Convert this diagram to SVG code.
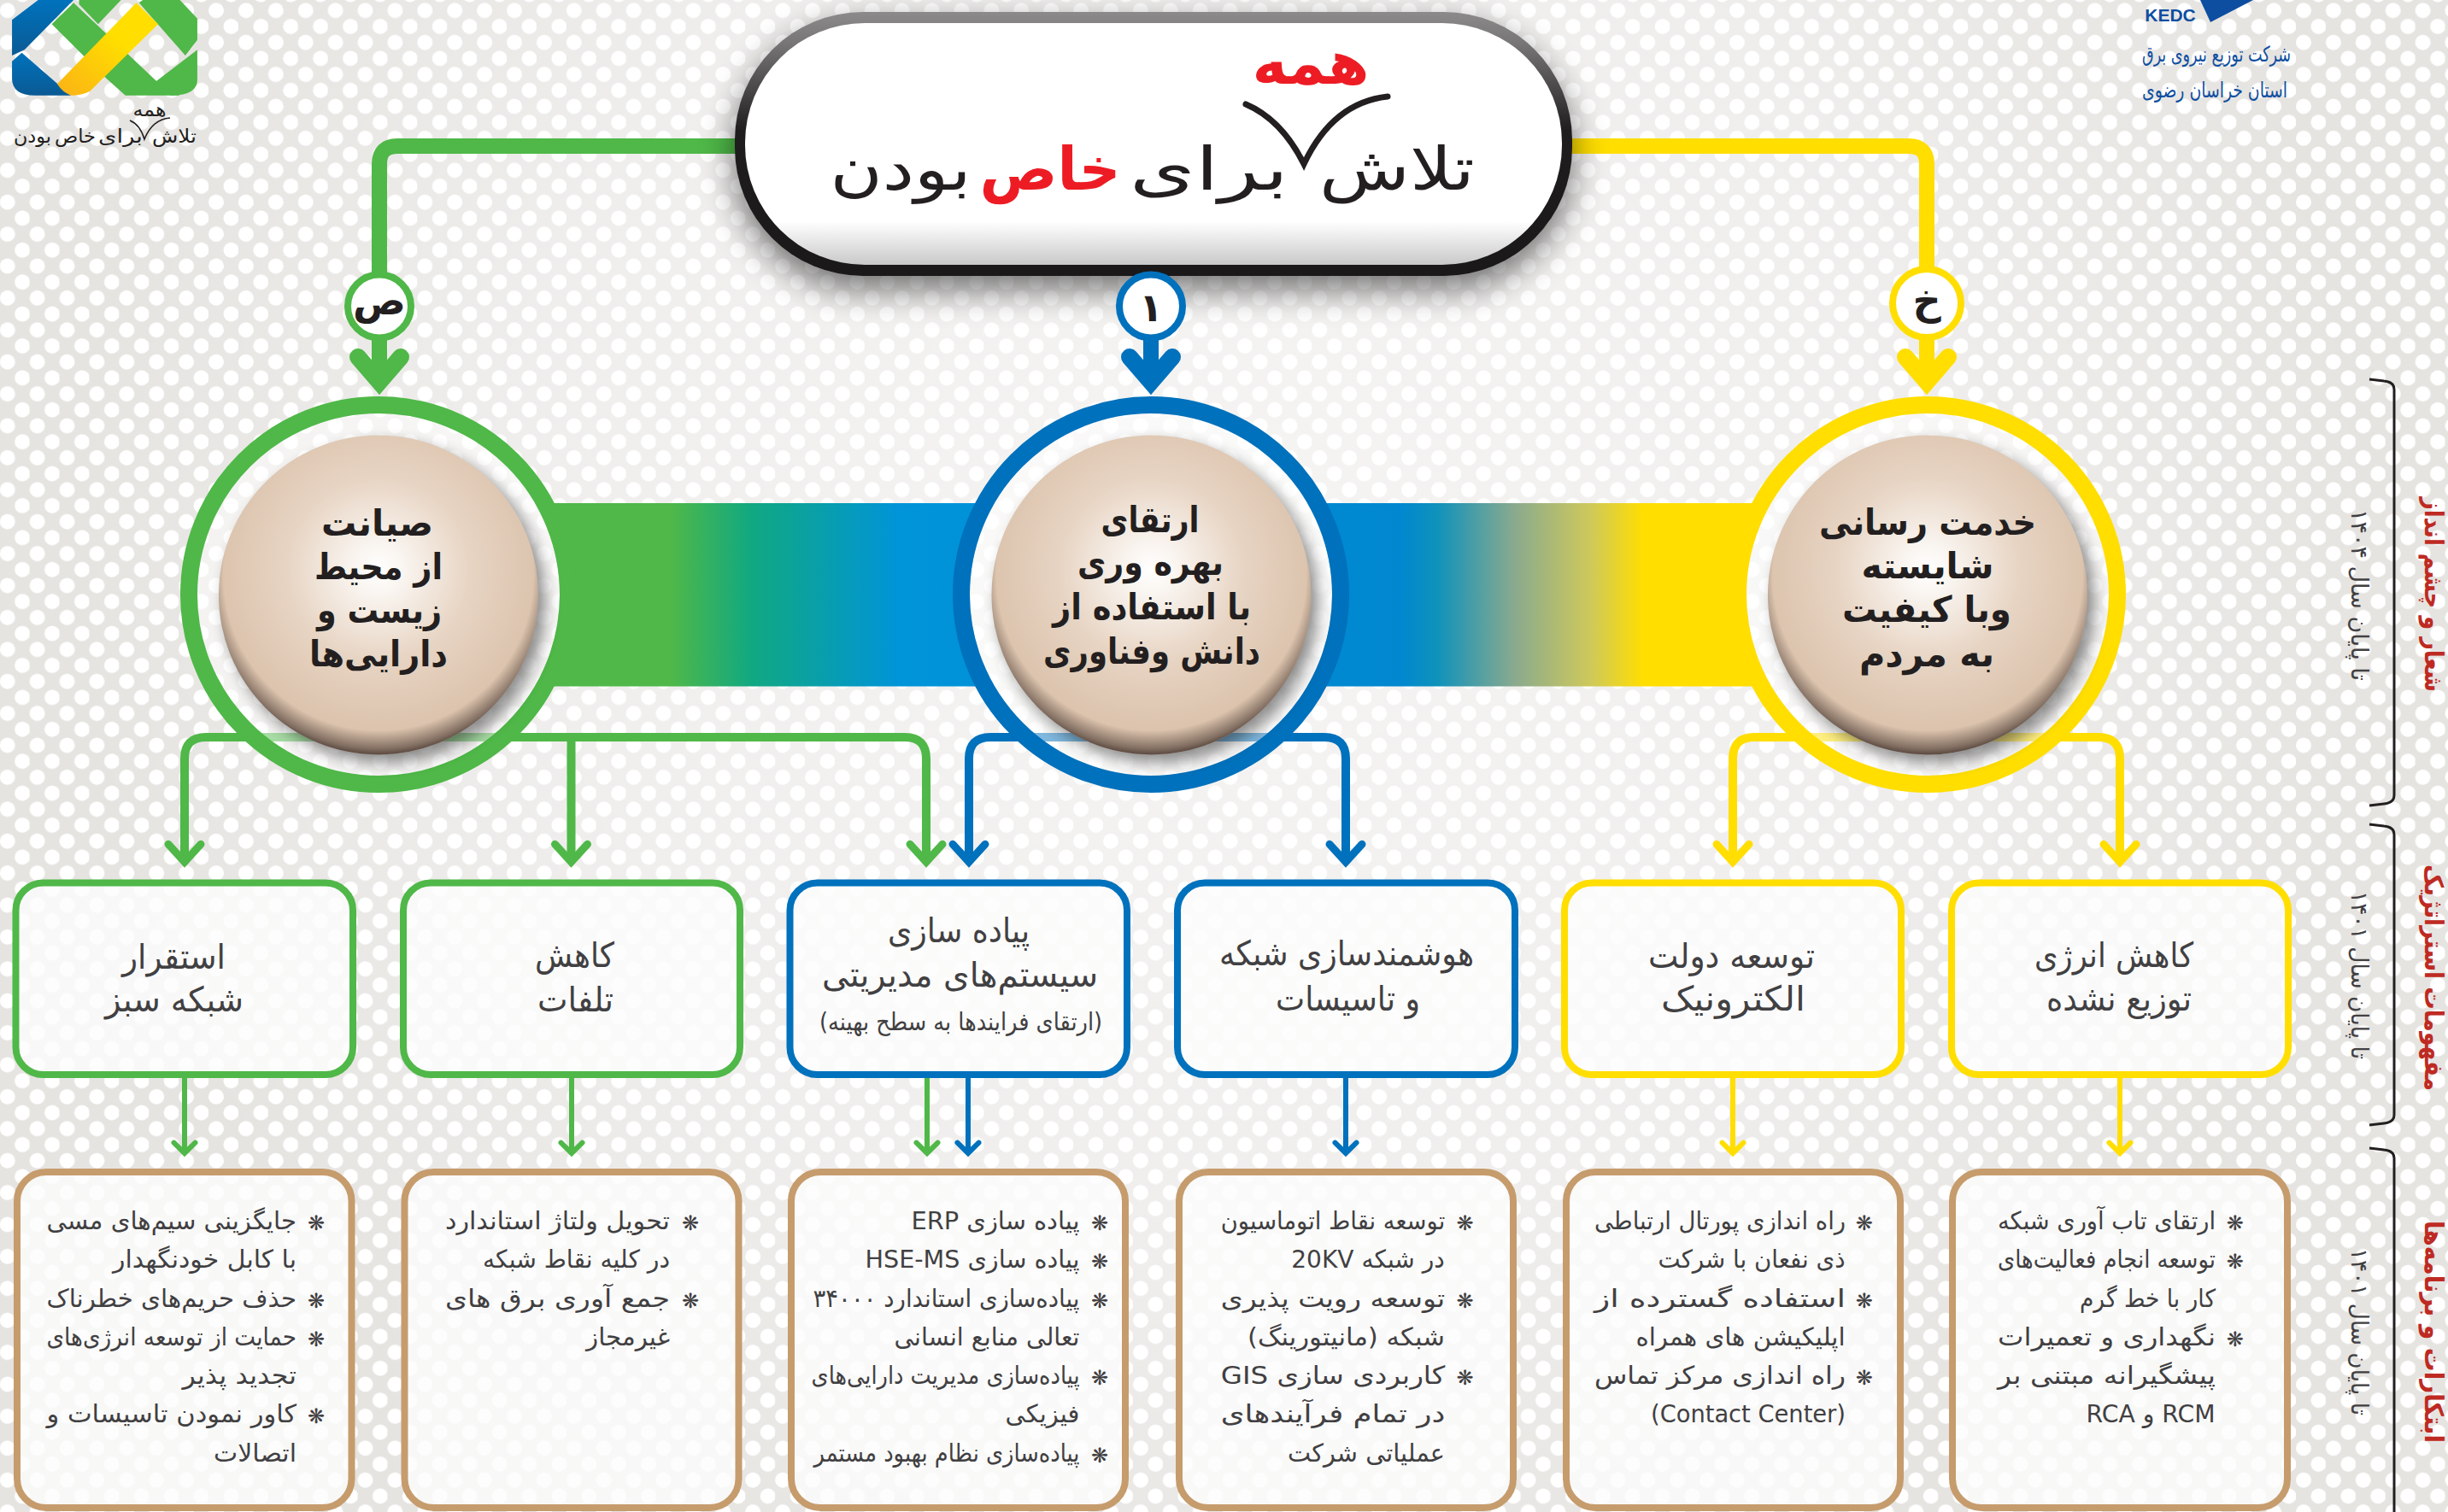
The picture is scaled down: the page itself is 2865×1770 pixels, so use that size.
<svg xmlns="http://www.w3.org/2000/svg" width="2865" height="1770" viewBox="0 0 2865 1770">
<style>
text{font-family:"DejaVu Sans",sans-serif}
.ar{direction:rtl;text-anchor:middle}
.ttl{font-size:70px;fill:#231f20}
.red{fill:#ed1c24}
.smt{font-size:22px;fill:#231f20}
.disc{font-size:42px;font-weight:700;fill:#231f20}
.head{font-size:40px;fill:#414042}
.body{font-size:29px;fill:#414042}
.bul{font-size:24px;fill:#414042;text-anchor:middle}
.yr{font-size:27px;fill:#414042}
.sec{font-size:30px;font-weight:700;fill:#be2a22}
.kb{font-size:25px;fill:#0d4ea1}
.br{fill:none;stroke:#231f20;stroke-width:3}
.box{stroke-width:8;fill:#fdfdfd;fill-opacity:.82}
.res{stroke:#c69c6d;stroke-width:8;fill:#fdfdfd;fill-opacity:.8}
.ring{stroke-width:20;fill:#fff;fill-opacity:.5}
.bdg{stroke-width:8;fill:#fff}
.sg{stroke:#4fb848}.sb{stroke:#0071bc}.sy{stroke:#ffde00}
.cn{fill:none}
.w18{stroke-width:18}.w10{stroke-width:10}.w6{stroke-width:6}
.hb{font-size:46px;font-weight:700;fill:#231f20;text-anchor:middle}
</style>
<defs>
<pattern id="dots" patternUnits="userSpaceOnUse" x="-0.3" y="2.8" width="34.9" height="37.4">
<circle cx="9" cy="9.5" r="9" fill="#fff"/><circle cx="26.45" cy="28.2" r="9" fill="#fff"/>
</pattern>
<radialGradient id="haze" gradientUnits="userSpaceOnUse" cx="1430" cy="640" r="1500">
<stop offset="0" stop-color="#fff" stop-opacity=".62"/><stop offset=".55" stop-color="#fff" stop-opacity=".38"/><stop offset=".9" stop-color="#fff" stop-opacity="0"/>
</radialGradient>
<linearGradient id="band" gradientUnits="userSpaceOnUse" x1="626" y1="0" x2="2072" y2="0">
<stop offset=".11" stop-color="#4fb848"/><stop offset=".176" stop-color="#10a882"/><stop offset=".295" stop-color="#0094d9"/><stop offset=".70" stop-color="#0087d0"/><stop offset=".73" stop-color="#0f92bb"/><stop offset=".793" stop-color="#8aaa8e"/><stop offset=".855" stop-color="#cfc95a"/><stop offset=".897" stop-color="#ffde00"/>
</linearGradient>
<radialGradient id="discG" cx=".5" cy=".42" r=".6">
<stop offset="0" stop-color="#fff"/><stop offset=".14" stop-color="#f9f4ef"/><stop offset=".48" stop-color="#e7d4c3"/><stop offset=".82" stop-color="#dcc4ae"/><stop offset="1" stop-color="#d8bfa8"/>
</radialGradient>
<radialGradient id="discR" cx=".5" cy=".44" r=".57">
<stop offset=".85" stop-color="#3c2d28" stop-opacity="0"/><stop offset=".95" stop-color="#3c2d28" stop-opacity=".55"/><stop offset="1" stop-color="#3c2d28" stop-opacity=".95"/>
</radialGradient>
<linearGradient id="pe" x1="0" y1="0" x2="0" y2="1">
<stop offset="0" stop-color="#8c8a8a"/><stop offset=".12" stop-color="#777575"/><stop offset=".45" stop-color="#1f1d1d"/><stop offset="1" stop-color="#1a1818"/>
</linearGradient>
<linearGradient id="pf" x1="0" y1="0" x2="0" y2="1">
<stop offset="0" stop-color="#fff"/><stop offset=".82" stop-color="#fff"/><stop offset="1" stop-color="#c9c9c9"/>
</linearGradient>
<linearGradient id="lgB" x1="0" y1="0" x2="0" y2="1"><stop offset="0" stop-color="#0072bc"/><stop offset="1" stop-color="#0a5a94"/></linearGradient>
<linearGradient id="lgY" x1="1" y1="0" x2="0" y2="1"><stop offset=".4" stop-color="#ffde00"/><stop offset="1" stop-color="#fbb116"/></linearGradient>
<filter id="b20" x="-20%" y="-40%" width="140%" height="200%"><feGaussianBlur stdDeviation="20"/></filter>
<filter id="b9" x="-20%" y="-20%" width="140%" height="140%"><feGaussianBlur stdDeviation="9"/></filter>
<marker id="Hg" markerUnits="userSpaceOnUse" markerWidth="80" markerHeight="80" viewBox="0 0 80 80" refX="60" refY="40" orient="auto"><path d="M31,15L60,40L31,65" fill="none" stroke="#4fb848" stroke-width="20" stroke-linecap="round"/></marker>
<marker id="Hb" markerUnits="userSpaceOnUse" markerWidth="80" markerHeight="80" viewBox="0 0 80 80" refX="60" refY="40" orient="auto"><path d="M31,15L60,40L31,65" fill="none" stroke="#0071bc" stroke-width="20" stroke-linecap="round"/></marker>
<marker id="Hy" markerUnits="userSpaceOnUse" markerWidth="80" markerHeight="80" viewBox="0 0 80 80" refX="60" refY="40" orient="auto"><path d="M31,15L60,40L31,65" fill="none" stroke="#ffde00" stroke-width="20" stroke-linecap="round"/></marker>
<marker id="Mg" markerUnits="userSpaceOnUse" markerWidth="60" markerHeight="60" viewBox="0 0 60 60" refX="40" refY="30" orient="auto"><path d="M19.2,11L40,30L19.2,49" fill="none" stroke="#4fb848" stroke-width="9" stroke-linecap="round"/></marker>
<marker id="Mb" markerUnits="userSpaceOnUse" markerWidth="60" markerHeight="60" viewBox="0 0 60 60" refX="40" refY="30" orient="auto"><path d="M19.2,11L40,30L19.2,49" fill="none" stroke="#0071bc" stroke-width="9" stroke-linecap="round"/></marker>
<marker id="My" markerUnits="userSpaceOnUse" markerWidth="60" markerHeight="60" viewBox="0 0 60 60" refX="40" refY="30" orient="auto"><path d="M19.2,11L40,30L19.2,49" fill="none" stroke="#ffde00" stroke-width="9" stroke-linecap="round"/></marker>
<marker id="Sg" markerUnits="userSpaceOnUse" markerWidth="40" markerHeight="40" viewBox="0 0 40 40" refX="28" refY="20" orient="auto"><path d="M15.6,7.5L28,20L15.6,32.5" fill="none" stroke="#4fb848" stroke-width="6" stroke-linecap="round"/></marker>
<marker id="Sb" markerUnits="userSpaceOnUse" markerWidth="40" markerHeight="40" viewBox="0 0 40 40" refX="28" refY="20" orient="auto"><path d="M15.6,7.5L28,20L15.6,32.5" fill="none" stroke="#0071bc" stroke-width="6" stroke-linecap="round"/></marker>
<marker id="Sy" markerUnits="userSpaceOnUse" markerWidth="40" markerHeight="40" viewBox="0 0 40 40" refX="28" refY="20" orient="auto"><path d="M15.6,7.5L28,20L15.6,32.5" fill="none" stroke="#ffde00" stroke-width="6" stroke-linecap="round"/></marker>
</defs>

<g id="background">
<rect width="2865" height="1770" fill="#e6e4e1"/>
<rect width="2865" height="1770" fill="url(#dots)"/>
<rect width="2865" height="1770" fill="url(#haze)"/>
</g>

<g id="logo-left">
<g transform="scale(.638 .3333)">
<path d="M70,0L135,0L45,175L22,195L22,70Z" fill="url(#lgB)"/>
<path d="M40,185L130,335L65,335Q22,335 22,275L22,215Z" fill="url(#lgB)"/>
<path d="M135,10L290,290L330,335L230,335L195,275L95,85Z" fill="#4fb848"/>
<path d="M145,15L180,85L222,0L145,0Z" fill="#4fb848"/>
<path d="M255,10L262,0L330,0L362,65L362,140L340,195Z" fill="#4fb848"/>
<path d="M362,175L362,280Q362,335 315,335Q295,330 280,295Z" fill="#4fb848"/>
<path d="M250,10L290,85L165,320Q150,335 130,335Q115,325 105,295Z" fill="url(#lgY)"/>
</g>
<text class="ar smt red" x="175" y="136" font-size="14" textLength="39" lengthAdjust="spacingAndGlyphs">همه</text>
<path d="M152,141Q164,146 169,163Q178,140 199,138" fill="none" stroke="#231f20" stroke-width="1.6"/>
<text class="ar smt" x="204" y="167" textLength="52" lengthAdjust="spacingAndGlyphs">تلاش</text>
<text class="ar smt" x="141" y="167" textLength="52" lengthAdjust="spacingAndGlyphs">برای</text>
<text class="ar smt red" x="88" y="167" textLength="48" lengthAdjust="spacingAndGlyphs">خاص</text>
<text class="ar smt" x="38" y="167" textLength="44" lengthAdjust="spacingAndGlyphs">بودن</text>
</g>

<g id="logo-right">
<path d="M2575,0L2637,0L2587,26Z" fill="#0d4ea1"/>
<text x="2540" y="25" text-anchor="middle" font-size="21" font-weight="700" fill="#0d4ea1" style="font-family:'Liberation Sans',sans-serif">KEDC</text>
<text class="ar kb" x="2594" y="72" textLength="174" lengthAdjust="spacingAndGlyphs">شرکت توزیع نیروی برق</text>
<text class="ar kb" x="2592" y="114" textLength="170" lengthAdjust="spacingAndGlyphs">استان خراسان رضوی</text>
</g>

<g id="connectors">
<path class="cn sg w18" d="M870,171H465Q444,171 444,192V447" marker-end="url(#Hg)"/>
<path class="cn sb w18" d="M1347,320V447" marker-end="url(#Hb)"/>
<path class="cn sy w18" d="M1830,171H2234Q2255,171 2255,192V447" marker-end="url(#Hy)"/>
<path class="cn sg w10" d="M443,863H241Q216,863 216,888V1009" marker-end="url(#Mg)"/>
<path class="cn sg w10" d="M668.5,863V1009" marker-end="url(#Mg)"/>
<path class="cn sg w10" d="M443,863H1059Q1084,863 1084,888V1009" marker-end="url(#Mg)"/>
<path class="cn sb w10" d="M1347,863H1159Q1134,863 1134,888V1009" marker-end="url(#Mb)"/>
<path class="cn sb w10" d="M1347,863H1550Q1575,863 1575,888V1009" marker-end="url(#Mb)"/>
<path class="cn sy w10" d="M2255,863H2053Q2028,863 2028,888V1009" marker-end="url(#My)"/>
<path class="cn sy w10" d="M2255,863H2456Q2481,863 2481,888V1009" marker-end="url(#My)"/>
<path class="cn sg w6" d="M216,1262V1350" marker-end="url(#Sg)"/>
<path class="cn sg w6" d="M669,1262V1350" marker-end="url(#Sg)"/>
<path class="cn sg w6" d="M1085,1262V1350" marker-end="url(#Sg)"/>
<path class="cn sb w6" d="M1133,1262V1350" marker-end="url(#Sb)"/>
<path class="cn sb w6" d="M1575,1262V1350" marker-end="url(#Sb)"/>
<path class="cn sy w6" d="M2028,1262V1350" marker-end="url(#Sy)"/>
<path class="cn sy w6" d="M2481,1262V1350" marker-end="url(#Sy)"/>
</g>

<g id="band">
<path d="M626,589A212,212 0 0 1 626,803.6H1164A212,212 0 0 1 1164,589Z" fill="url(#band)"/>
<path d="M1530,589A212,212 0 0 1 1530,803.6H2072A212,212 0 0 1 2072,589Z" fill="url(#band)"/>
</g>

<g id="title">
<rect x="860" y="30" width="980" height="309" rx="150" fill="#000" opacity=".55" filter="url(#b20)"/>
<rect x="860" y="14" width="980" height="309" rx="150" fill="url(#pe)"/>
<rect x="872" y="27" width="956" height="283" rx="140" fill="url(#pf)"/>
<text class="ar ttl red" x="1534" y="98" font-size="46" font-weight="700" textLength="137" lengthAdjust="spacingAndGlyphs">همه</text>
<path d="M1458,122Q1500,140 1526,192Q1560,120 1624,113" fill="none" stroke="#231f20" stroke-width="7" stroke-linecap="round"/>
<text class="ar ttl" x="1635" y="222" textLength="182" lengthAdjust="spacingAndGlyphs">تلاش</text>
<text class="ar ttl" x="1415" y="222" textLength="186" lengthAdjust="spacingAndGlyphs">برای</text>
<text class="ar ttl red" x="1229" y="222" font-weight="700" textLength="165" lengthAdjust="spacingAndGlyphs">خاص</text>
<text class="ar ttl" x="1054" y="222" textLength="165" lengthAdjust="spacingAndGlyphs">بودن</text>
</g>

<g id="circle-green">
<circle class="ring sg" cx="443" cy="696" r="222"/>
<circle cx="451" cy="706" r="187" fill="#000" opacity=".45" filter="url(#b9)"/>
<circle cx="443" cy="696.4" r="187" fill="url(#discG)"/><circle cx="443" cy="696.4" r="187" fill="url(#discR)"/>
<text class="ar disc" x="441.5" y="627" textLength="131" lengthAdjust="spacingAndGlyphs">صیانت</text>
<text class="ar disc" x="443" y="678" textLength="150" lengthAdjust="spacingAndGlyphs">از محیط</text>
<text class="ar disc" x="444" y="729" textLength="146" lengthAdjust="spacingAndGlyphs">زیست و</text>
<text class="ar disc" x="443" y="780" textLength="162" lengthAdjust="spacingAndGlyphs">دارایی‌ها</text>
</g>
<g id="circle-blue">
<circle class="ring sb" cx="1347" cy="696" r="222"/>
<circle cx="1355" cy="706" r="187" fill="#000" opacity=".45" filter="url(#b9)"/>
<circle cx="1347.5" cy="696.4" r="187" fill="url(#discG)"/><circle cx="1347.5" cy="696.4" r="187" fill="url(#discR)"/>
<text class="ar disc" x="1346" y="623" textLength="115" lengthAdjust="spacingAndGlyphs">ارتقای</text>
<text class="ar disc" x="1346.5" y="673" textLength="171" lengthAdjust="spacingAndGlyphs">بهره وری</text>
<text class="ar disc" x="1348" y="725" textLength="232" lengthAdjust="spacingAndGlyphs">با استفاده از</text>
<text class="ar disc" x="1348" y="777" textLength="254" lengthAdjust="spacingAndGlyphs">دانش وفناوری</text>
</g>
<g id="circle-yellow">
<circle class="ring sy" cx="2256" cy="696" r="222"/>
<circle cx="2264" cy="706" r="187" fill="#000" opacity=".45" filter="url(#b9)"/>
<circle cx="2256" cy="696.4" r="187" fill="url(#discG)"/><circle cx="2256" cy="696.4" r="187" fill="url(#discR)"/>
<text class="ar disc" x="2256" y="626" textLength="254" lengthAdjust="spacingAndGlyphs">خدمت رسانی</text>
<text class="ar disc" x="2256" y="677" textLength="155" lengthAdjust="spacingAndGlyphs">شایسته</text>
<text class="ar disc" x="2255" y="728" textLength="198" lengthAdjust="spacingAndGlyphs">وبا کیفیت</text>
<text class="ar disc" x="2255" y="780" textLength="158" lengthAdjust="spacingAndGlyphs">به مردم</text>
</g>

<g id="badge-s"><circle class="bdg sg" cx="444" cy="358.5" r="37"/><text class="hb" x="444" y="368">ص</text></g>
<g id="badge-a"><circle class="bdg sb" cx="1347" cy="358.5" r="37"/><text class="hb" x="1347" y="376">۱</text></g>
<g id="badge-kh"><circle class="bdg sy" cx="2255" cy="355" r="40"/><text class="hb" x="2255" y="368">خ</text></g>

<g id="goal-1"><rect class="box sg" x="18.5" y="1033.5" width="394.5" height="224.5" rx="32"/>
<text class="ar head" x="203.5" y="1134" textLength="121" lengthAdjust="spacingAndGlyphs">استقرار</text>
<text class="ar head" x="204" y="1184" textLength="162" lengthAdjust="spacingAndGlyphs">شبکه سبز</text></g>
<g id="goal-2"><rect class="box sg" x="472" y="1033.5" width="394" height="224.5" rx="32"/>
<text class="ar head" x="672.5" y="1132" textLength="93" lengthAdjust="spacingAndGlyphs">کاهش</text>
<text class="ar head" x="673.5" y="1184" textLength="89" lengthAdjust="spacingAndGlyphs">تلفات</text></g>
<g id="goal-3"><rect class="box sb" x="924.5" y="1033.5" width="394.5" height="224.5" rx="32"/>
<text class="ar head" x="1122" y="1103" textLength="166" lengthAdjust="spacingAndGlyphs">پیاده سازی</text>
<text class="ar head" x="1123.5" y="1155" textLength="323" lengthAdjust="spacingAndGlyphs">سیستم‌های مدیریتی</text>
<text class="ar body" x="1124.5" y="1206" textLength="331" lengthAdjust="spacingAndGlyphs">(ارتقای فرایندها به سطح بهینه)</text></g>
<g id="goal-4"><rect class="box sb" x="1378" y="1033.5" width="395" height="224.5" rx="32"/>
<text class="ar head" x="1576" y="1130" textLength="298" lengthAdjust="spacingAndGlyphs">هوشمندسازی شبکه</text>
<text class="ar head" x="1577.5" y="1183" textLength="169" lengthAdjust="spacingAndGlyphs">و تاسیسات</text></g>
<g id="goal-5"><rect class="box sy" x="1831" y="1033.5" width="394" height="224.5" rx="32"/>
<text class="ar head" x="2026.5" y="1133" textLength="195" lengthAdjust="spacingAndGlyphs">توسعه دولت</text>
<text class="ar head" x="2028.5" y="1183" textLength="169" lengthAdjust="spacingAndGlyphs">الکترونیک</text></g>
<g id="goal-6"><rect class="box sy" x="2284" y="1033.5" width="394" height="224.5" rx="32"/>
<text class="ar head" x="2474" y="1132" textLength="186" lengthAdjust="spacingAndGlyphs">کاهش انرژی</text>
<text class="ar head" x="2480" y="1183" textLength="170" lengthAdjust="spacingAndGlyphs">توزیع نشده</text></g>

<g id="actions-1"><rect class="res" x="20" y="1372" width="391.5" height="393" rx="34"/>
<text class="bul" x="370" y="1440">❋</text><text class="bul" x="370" y="1531">❋</text><text class="bul" x="370" y="1576">❋</text><text class="bul" x="370" y="1666">❋</text>
<text class="ar body" x="200.75" y="1439" textLength="292.5" lengthAdjust="spacingAndGlyphs">جایگزینی سیم‌های مسی</text>
<text class="ar body" x="239.5" y="1484" textLength="215" lengthAdjust="spacingAndGlyphs">با کابل خودنگهدار</text>
<text class="ar body" x="200.75" y="1530" textLength="292.5" lengthAdjust="spacingAndGlyphs">حذف حریم‌های خطرناک</text>
<text class="ar body" x="200.75" y="1575" textLength="292.5" lengthAdjust="spacingAndGlyphs">حمایت از توسعه انرژی‌های</text>
<text class="ar body" x="280.25" y="1620" textLength="133.5" lengthAdjust="spacingAndGlyphs">تجدید پذیر</text>
<text class="ar body" x="200.75" y="1665" textLength="292.5" lengthAdjust="spacingAndGlyphs">کاور نمودن تاسیسات و</text>
<text class="ar body" x="298.5" y="1711" textLength="97" lengthAdjust="spacingAndGlyphs">اتصالات</text></g>

<g id="actions-2"><rect class="res" x="473.5" y="1372" width="391" height="393" rx="34"/>
<text class="bul" x="808" y="1440">❋</text><text class="bul" x="808" y="1531">❋</text>
<text class="ar body" x="652.5" y="1439" textLength="263" lengthAdjust="spacingAndGlyphs">تحویل ولتاژ استاندارد</text>
<text class="ar body" x="674.5" y="1484" textLength="219" lengthAdjust="spacingAndGlyphs">در کلیه نقاط شبکه</text>
<text class="ar body" x="652.5" y="1530" textLength="263" lengthAdjust="spacingAndGlyphs">جمع آوری برق های</text>
<text class="ar body" x="735" y="1575" textLength="98" lengthAdjust="spacingAndGlyphs">غیرمجاز</text></g>

<g id="actions-3"><rect class="res" x="926" y="1372" width="391" height="393" rx="34"/>
<text class="bul" x="1287" y="1440">❋</text><text class="bul" x="1287" y="1485">❋</text><text class="bul" x="1287" y="1531">❋</text><text class="bul" x="1287" y="1621">❋</text><text class="bul" x="1287" y="1712">❋</text>
<text class="ar body" x="1165" y="1439" textLength="197" lengthAdjust="spacingAndGlyphs">پیاده سازی ERP</text>
<text class="ar body" x="1138" y="1484" textLength="251" lengthAdjust="spacingAndGlyphs">پیاده سازی HSE-MS</text>
<text class="ar body" x="1107.5" y="1530" textLength="312" lengthAdjust="spacingAndGlyphs">پیاده‌سازی استاندارد ۳۴۰۰۰</text>
<text class="ar body" x="1155" y="1575" textLength="217" lengthAdjust="spacingAndGlyphs">تعالی منابع انسانی</text>
<text class="ar body" x="1106.6" y="1620" textLength="314" lengthAdjust="spacingAndGlyphs">پیاده‌سازی مدیریت دارایی‌های</text>
<text class="ar body" x="1220" y="1665" textLength="87" lengthAdjust="spacingAndGlyphs">فیزیکی</text>
<text class="ar body" x="1108" y="1711" textLength="311" lengthAdjust="spacingAndGlyphs">پیاده‌سازی نظام بهبود مستمر</text></g>

<g id="actions-4"><rect class="res" x="1380" y="1372" width="391" height="393" rx="34"/>
<text class="bul" x="1714.5" y="1440">❋</text><text class="bul" x="1714.5" y="1531">❋</text><text class="bul" x="1714.5" y="1621">❋</text>
<text class="ar body" x="1560" y="1439" textLength="262.5" lengthAdjust="spacingAndGlyphs">توسعه نقاط اتوماسیون</text>
<text class="ar body" x="1601" y="1484" textLength="179.5" lengthAdjust="spacingAndGlyphs">در شبکه 20KV</text>
<text class="ar body" x="1560" y="1530" textLength="262.5" lengthAdjust="spacingAndGlyphs">توسعه رویت پذیری</text>
<text class="ar body" x="1575.5" y="1575" textLength="231" lengthAdjust="spacingAndGlyphs">شبکه (مانیتورینگ)</text>
<text class="ar body" x="1560" y="1620" textLength="262.5" lengthAdjust="spacingAndGlyphs">کاربردی سازی GIS</text>
<text class="ar body" x="1560" y="1665" textLength="262.5" lengthAdjust="spacingAndGlyphs">در تمام فرآیندهای</text>
<text class="ar body" x="1599" y="1711" textLength="184" lengthAdjust="spacingAndGlyphs">عملیاتی شرکت</text></g>

<g id="actions-5"><rect class="res" x="1833" y="1372" width="391" height="393" rx="34"/>
<text class="bul" x="2181.7" y="1440">❋</text><text class="bul" x="2181.7" y="1531">❋</text><text class="bul" x="2181.7" y="1621">❋</text>
<text class="ar body" x="2013" y="1439" textLength="294" lengthAdjust="spacingAndGlyphs">راه اندازی پورتال ارتباطی</text>
<text class="ar body" x="2050" y="1484" textLength="219" lengthAdjust="spacingAndGlyphs">ذی نفعان با شرکت</text>
<text class="ar body" x="2013" y="1530" textLength="294" lengthAdjust="spacingAndGlyphs">استفاده گسترده از</text>
<text class="ar body" x="2037" y="1575" textLength="245" lengthAdjust="spacingAndGlyphs">اپلیکیشن های همراه</text>
<text class="ar body" x="2013" y="1620" textLength="294" lengthAdjust="spacingAndGlyphs">راه اندازی مرکز تماس</text>
<text class="ar body" x="2046" y="1665" textLength="228" lengthAdjust="spacingAndGlyphs">(Contact Center)</text></g>

<g id="actions-6"><rect class="res" x="2285" y="1372" width="392" height="393" rx="34"/>
<text class="bul" x="2615.7" y="1440">❋</text><text class="bul" x="2615.7" y="1485">❋</text><text class="bul" x="2615.7" y="1576">❋</text>
<text class="ar body" x="2465.5" y="1439" textLength="255" lengthAdjust="spacingAndGlyphs">ارتقای تاب آوری شبکه</text>
<text class="ar body" x="2465.5" y="1484" textLength="255" lengthAdjust="spacingAndGlyphs">توسعه انجام فعالیت‌های</text>
<text class="ar body" x="2513.5" y="1530" textLength="159" lengthAdjust="spacingAndGlyphs">کار با خط گرم</text>
<text class="ar body" x="2465.5" y="1575" textLength="255" lengthAdjust="spacingAndGlyphs">نگهداری و تعمیرات</text>
<text class="ar body" x="2465.5" y="1620" textLength="255" lengthAdjust="spacingAndGlyphs">پیشگیرانه مبتنی بر</text>
<text class="ar body" x="2517" y="1665" textLength="151" lengthAdjust="spacingAndGlyphs">RCM و RCA</text></g>

<g id="side-labels">
<path class="br" d="M2773,444L2790,446Q2802,447 2802,456V931Q2802,940 2790,941L2773,943"/>
<path class="br" d="M2773,965L2790,967Q2802,968 2802,977V1305Q2802,1314 2790,1315L2773,1317"/>
<path class="br" d="M2773,1344L2790,1346Q2802,1347 2802,1356V1775"/>
<text class="ar yr" transform="translate(2752,696.5) rotate(90)" textLength="201" lengthAdjust="spacingAndGlyphs">تا پایان سال ۱۴۰۴</text>
<text class="ar yr" transform="translate(2752,1141.5) rotate(90)" textLength="197" lengthAdjust="spacingAndGlyphs">تا پایان سال ۱۴۰۱</text>
<text class="ar yr" transform="translate(2752,1559) rotate(90)" textLength="196" lengthAdjust="spacingAndGlyphs">تا پایان سال ۱۴۰۱</text>
<text class="ar sec" transform="translate(2838,696) rotate(90)" textLength="228" lengthAdjust="spacingAndGlyphs">شعار و چشم انداز</text>
<text class="ar sec" transform="translate(2838,1144.5) rotate(90)" textLength="265" lengthAdjust="spacingAndGlyphs">مفهومات استراتژیک</text>
<text class="ar sec" transform="translate(2838,1559) rotate(90)" textLength="260" lengthAdjust="spacingAndGlyphs">ابتکارات و برنامه‌ها</text>
</g>
</svg>
